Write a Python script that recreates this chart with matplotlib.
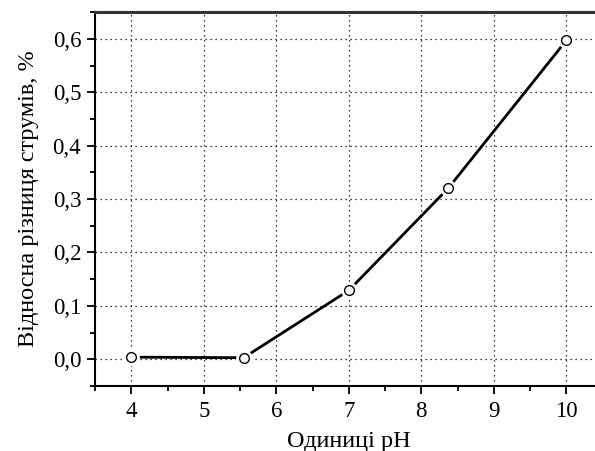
import matplotlib
matplotlib.use("Agg")
import matplotlib.pyplot as plt
from matplotlib.ticker import MultipleLocator, FuncFormatter

# data
ph = [4.0, 5.55, 7.0, 8.37, 10.0]
diff = [0.004, 0.003, 0.129, 0.320, 0.597]

plt.rcParams["font.family"] = ["Liberation Serif", "DejaVu Serif"]

fig = plt.figure(figsize=(5.95, 4.51), dpi=100)
ax = fig.add_axes([0.1597, 0.1441, 0.853, 0.829])

ax.plot(ph, diff, color="black", lw=2.0, zorder=3)
# white halo so the line stops short of the markers
ax.plot(ph, diff, "o", ms=11, mfc="white", mec="white", zorder=4)
ax.plot(ph, diff, "o", ms=7, mfc="white", mec="black", mew=1.0, zorder=5)

ax.set_xlim(3.5, 10.5)
ax.set_ylim(-0.05, 0.65)
ax.xaxis.set_major_locator(MultipleLocator(1))
ax.xaxis.set_minor_locator(MultipleLocator(0.5))
ax.yaxis.set_major_locator(MultipleLocator(0.1))
ax.yaxis.set_minor_locator(MultipleLocator(0.05))
ax.yaxis.set_major_formatter(FuncFormatter(lambda v, p: f"{v:.1f}".replace(".", ",").replace("-0,0", "0,0")))
ax.set_yticks([0.0, 0.1, 0.2, 0.3, 0.4, 0.5, 0.6])

ax.grid(True, which="major", linestyle=(0, (1, 3)), color="black", lw=0.9)
ax.tick_params(which="both", direction="out", top=False, right=False, labelsize=16.5, width=1.3)
ax.tick_params(which="major", length=6)
ax.tick_params(which="minor", length=3.5)
ax.tick_params(axis="y", pad=4)
ax.tick_params(axis="x", pad=5)

for s in ["left", "bottom"]:
    ax.spines[s].set_linewidth(1.5)
ax.spines["top"].set_linewidth(2.2)
ax.spines["top"].set_color("#333333")

ax.set_xlabel("Одиниці pH", fontsize=17.5, labelpad=6)
ax.set_ylabel("Відносна різниця струмів, %", fontsize=17.5, labelpad=10)

fig.savefig("out.png", dpi=100)
